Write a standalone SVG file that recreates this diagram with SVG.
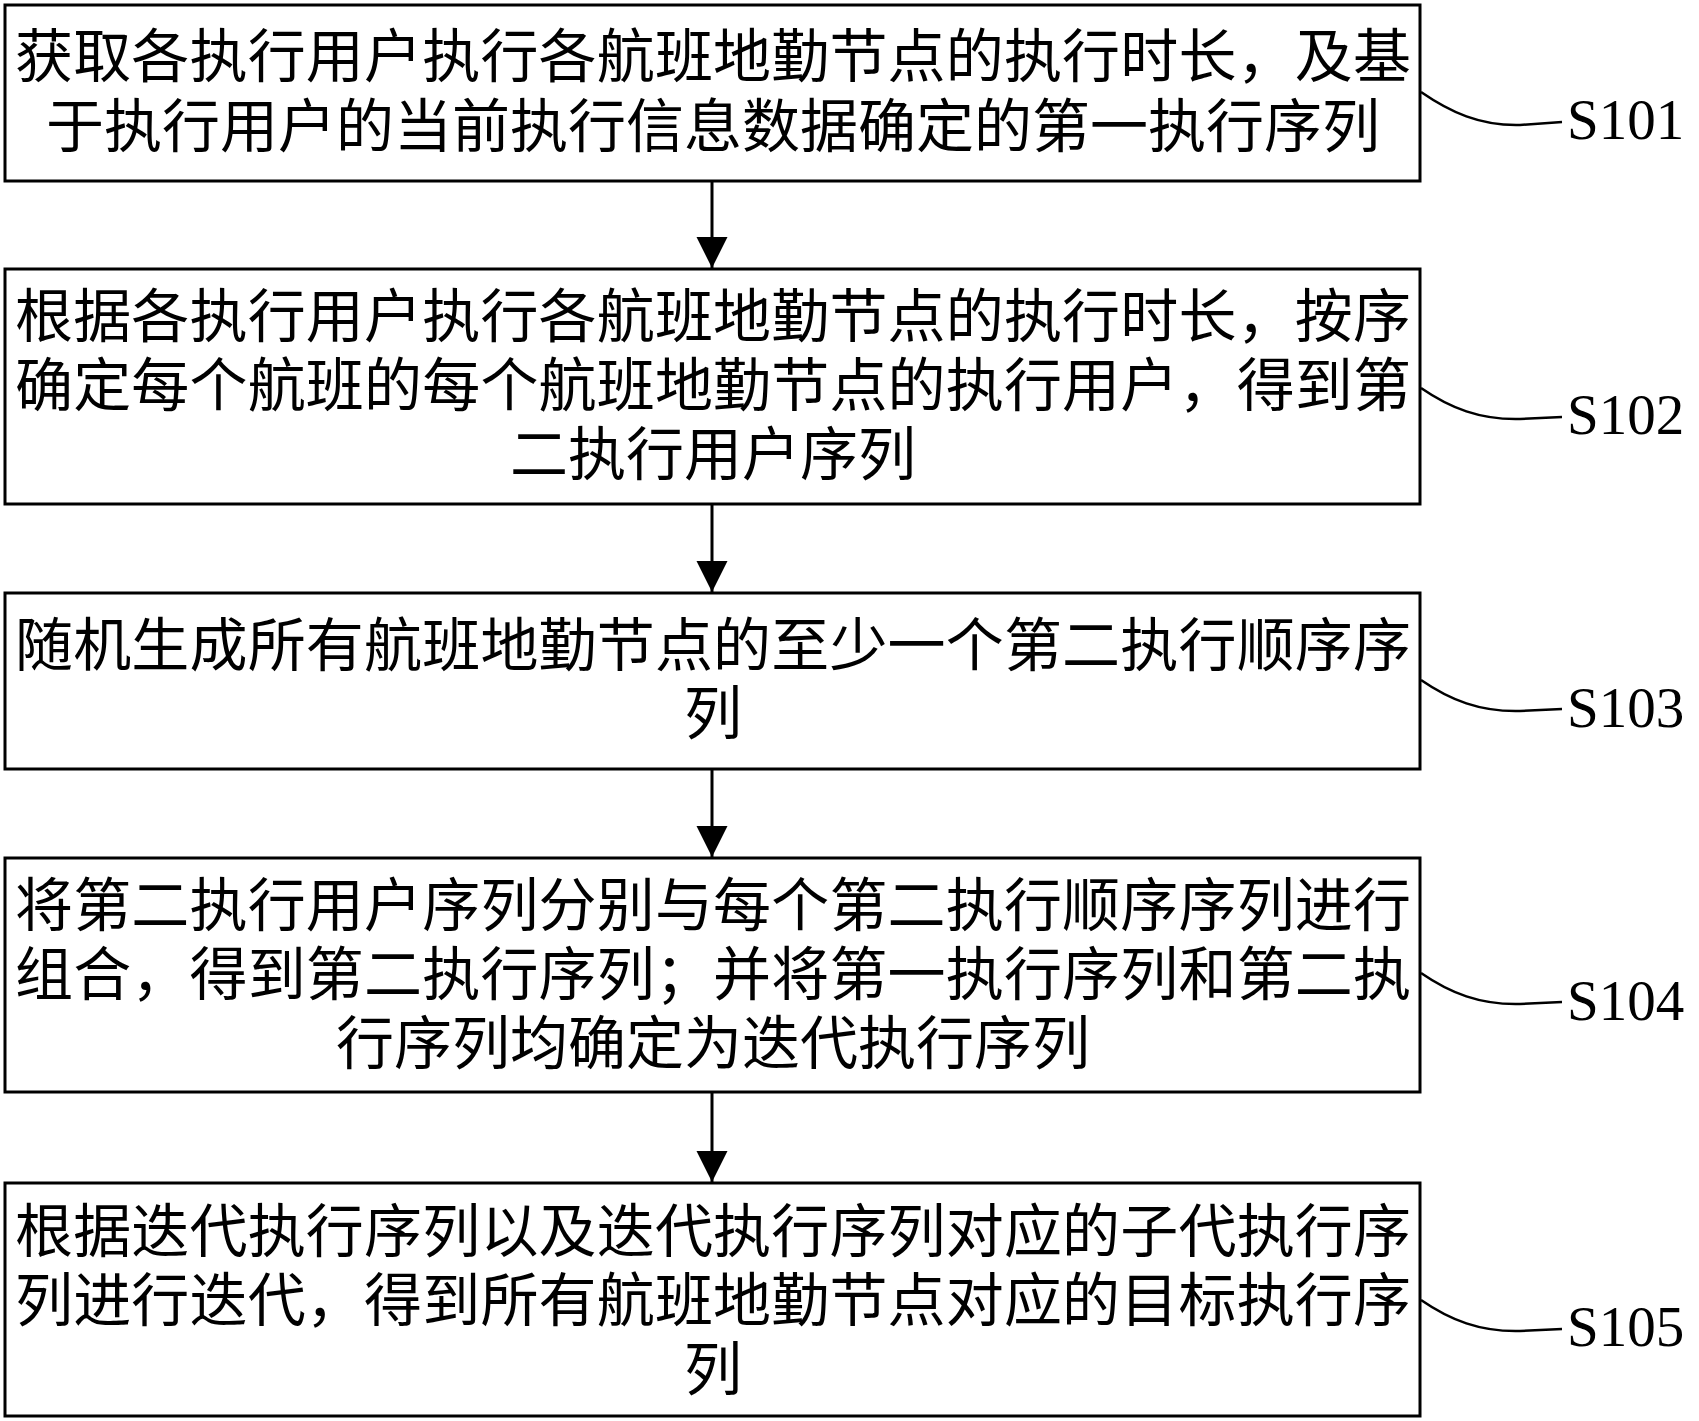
<svg xmlns="http://www.w3.org/2000/svg" width="1699" height="1421" viewBox="0 0 1699 1421">
<style>
.box{fill:#fff;stroke:#000;stroke-width:3}
.t{font-family:"Noto Sans CJK SC","Noto Sans CJK JP",sans-serif;font-size:58px;fill:#000}
.c{text-anchor:middle}
.lbl{font-family:"Liberation Serif",serif;font-size:57px;fill:#000}
.conn{fill:none;stroke:#000;stroke-width:3}
.lead{fill:none;stroke:#000;stroke-width:2.5}
</style>
<defs>
<marker id="ah" markerUnits="userSpaceOnUse" markerWidth="32" markerHeight="32" refX="31" refY="15.5" orient="auto">
<path d="M0,0 L31,15.5 L0,31 Z" fill="#000"/>
</marker>
</defs>
<rect width="1699" height="1421" fill="#fff"/>
<g id="connectors">
<line class="conn" x1="712" y1="182" x2="712" y2="268" marker-end="url(#ah)"/>
<line class="conn" x1="712" y1="505" x2="712" y2="592" marker-end="url(#ah)"/>
<line class="conn" x1="712" y1="770" x2="712" y2="857" marker-end="url(#ah)"/>
<line class="conn" x1="712" y1="1093" x2="712" y2="1182" marker-end="url(#ah)"/>
<path class="lead" d="M1421,92 C1450,112 1480,126 1520,125 L1562,122"/>
<path class="lead" d="M1421,388 C1450,408 1480,420 1520,419 L1562,417"/>
<path class="lead" d="M1421,680 C1450,700 1480,712 1520,711 L1562,709"/>
<path class="lead" d="M1421,973 C1450,993 1480,1005 1520,1004 L1562,1002"/>
<path class="lead" d="M1421,1300 C1450,1320 1480,1332 1520,1331 L1562,1329"/>
</g>
<g id="S101">
<rect class="box" x="5" y="5" width="1415" height="176"/>
<text class="t" x="15" y="77" textLength="1396" lengthAdjust="spacing">获取各执行用户执行各航班地勤节点的执行时长，及基</text>
<text class="t c" x="713" y="147">于执行用户的当前执行信息数据确定的第一执行序列</text>
<text class="lbl" x="1567" y="139">S101</text>
</g>
<g id="S102">
<rect class="box" x="5" y="269" width="1415" height="235"/>
<text class="t" x="15" y="337" textLength="1396" lengthAdjust="spacing">根据各执行用户执行各航班地勤节点的执行时长，按序</text>
<text class="t" x="15" y="406" textLength="1396" lengthAdjust="spacing">确定每个航班的每个航班地勤节点的执行用户，得到第</text>
<text class="t c" x="713" y="475">二执行用户序列</text>
<text class="lbl" x="1567" y="434">S102</text>
</g>
<g id="S103">
<rect class="box" x="5" y="593" width="1415" height="176"/>
<text class="t" x="15" y="666" textLength="1396" lengthAdjust="spacing">随机生成所有航班地勤节点的至少一个第二执行顺序序</text>
<text class="t c" x="713" y="734">列</text>
<text class="lbl" x="1567" y="727">S103</text>
</g>
<g id="S104">
<rect class="box" x="5" y="858" width="1415" height="234"/>
<text class="t" x="15" y="926" textLength="1396" lengthAdjust="spacing">将第二执行用户序列分别与每个第二执行顺序序列进行</text>
<text class="t" x="15" y="995" textLength="1396" lengthAdjust="spacing">组合，得到第二执行序列；并将第一执行序列和第二执</text>
<text class="t c" x="713" y="1064">行序列均确定为迭代执行序列</text>
<text class="lbl" x="1567" y="1020">S104</text>
</g>
<g id="S105">
<rect class="box" x="5" y="1183" width="1415" height="233"/>
<text class="t" x="15" y="1252" textLength="1396" lengthAdjust="spacing">根据迭代执行序列以及迭代执行序列对应的子代执行序</text>
<text class="t" x="15" y="1321" textLength="1396" lengthAdjust="spacing">列进行迭代，得到所有航班地勤节点对应的目标执行序</text>
<text class="t c" x="713" y="1390">列</text>
<text class="lbl" x="1567" y="1346">S105</text>
</g>
</svg>
